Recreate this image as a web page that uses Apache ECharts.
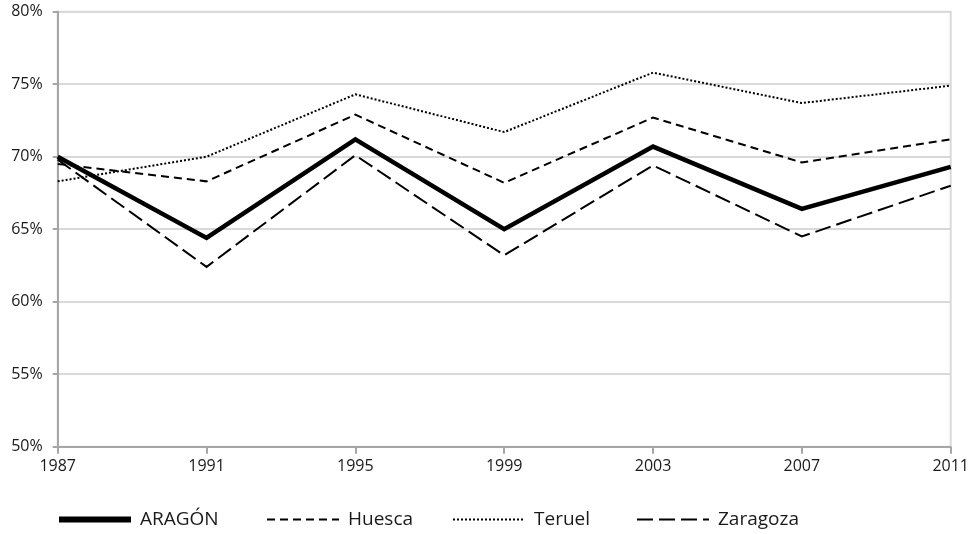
<!DOCTYPE html>
<html>
<head>
<meta charset="utf-8">
<script src="https://cdn.jsdelivr.net/npm/echarts@6/dist/echarts.min.js"></script>
<style>
html,body{margin:0;padding:0;background:#fff;}
#chart{width:972px;height:534px;}
</style>
</head>
<body>
<div id="chart"></div>
<script>
const years = ['1987','1991','1995','1999','2003','2007','2011'];
const aragon = [70.0, 64.4, 71.2, 65.0, 70.7, 66.4, 69.3];
const huesca = [69.5, 68.3, 72.9, 68.2, 72.7, 69.6, 71.2];
const teruel = [68.3, 70.0, 74.3, 71.7, 75.8, 73.7, 74.9];
const zaragoza = [69.8, 62.4, 70.1, 63.2, 69.4, 64.5, 68.0];
const seriesNames = ['ARAGÓN', 'Huesca', 'Teruel', 'Zaragoza'];

const FONT = 'Open Sans';
const chart = echarts.init(document.getElementById('chart'), null, {renderer: 'canvas'});

const styles = [
  {width: 4.5, legendWidth: 6, type: 'solid'},
  {width: 2, legendWidth: 2, type: [8, 5]},
  {width: 2, legendWidth: 2, type: [2, 2]},
  {width: 2, legendWidth: 2, type: [16, 6]}
];

function mkSeries(name, data, st) {
  return {
    name: name, type: 'line', data: data, symbol: 'none', smooth: false,
    lineStyle: {color: '#000', width: st.width, type: st.type, cap: 'butt', join: 'miter'},
    itemStyle: {color: '#000'},
    emphasis: {disabled: true}
  };
}

const legendLefts = [56, 266, 452, 636];
const legends = seriesNames.map((n, i) => ({
  data: [n], left: legendLefts[i], top: 510, padding: 0,
  itemWidth: 72, itemHeight: 14, itemGap: 0,
  itemStyle: {color: 'transparent', borderWidth: 0, opacity: 0},
  lineStyle: {color: '#000', width: styles[i].legendWidth, type: styles[i].type, cap: 'butt'},
  textStyle: {fontFamily: FONT, fontSize: 19, color: '#1a1a1a', padding: [0, 0, 0, 4]},
  selectedMode: false
}));

chart.setOption({
  animation: false,
  backgroundColor: '#fff',
  grid: {left: 57.7, right: 21.3, top: 11.7, bottom: 87.3, show: true, borderColor: '#d9d9d9', borderWidth: 2},
  legend: legends,
  xAxis: {
    type: 'category', data: years, boundaryGap: false,
    axisLine: {lineStyle: {color: '#a6a6a6', width: 2}},
    axisTick: {alignWithLabel: true, length: 7, lineStyle: {color: '#a6a6a6', width: 2}},
    axisLabel: {fontFamily: FONT, fontSize: 16, color: '#1a1a1a', margin: 12, showMinLabel: true, showMaxLabel: true},
    splitLine: {show: false}
  },
  yAxis: {
    type: 'value', min: 50, max: 80, interval: 5,
    axisLine: {show: true, lineStyle: {color: '#a6a6a6', width: 2}},
    axisTick: {show: true, length: 5, lineStyle: {color: '#a6a6a6', width: 2}},
    axisLabel: {fontFamily: FONT, fontSize: 16, color: '#1a1a1a', margin: 15, formatter: '{value}%'},
    splitLine: {lineStyle: {color: '#d9d9d9', width: 2}}
  },
  series: seriesNames.map((n, i) => mkSeries(n, [aragon, huesca, teruel, zaragoza][i], styles[i]))
});
</script>
</body>
</html>
